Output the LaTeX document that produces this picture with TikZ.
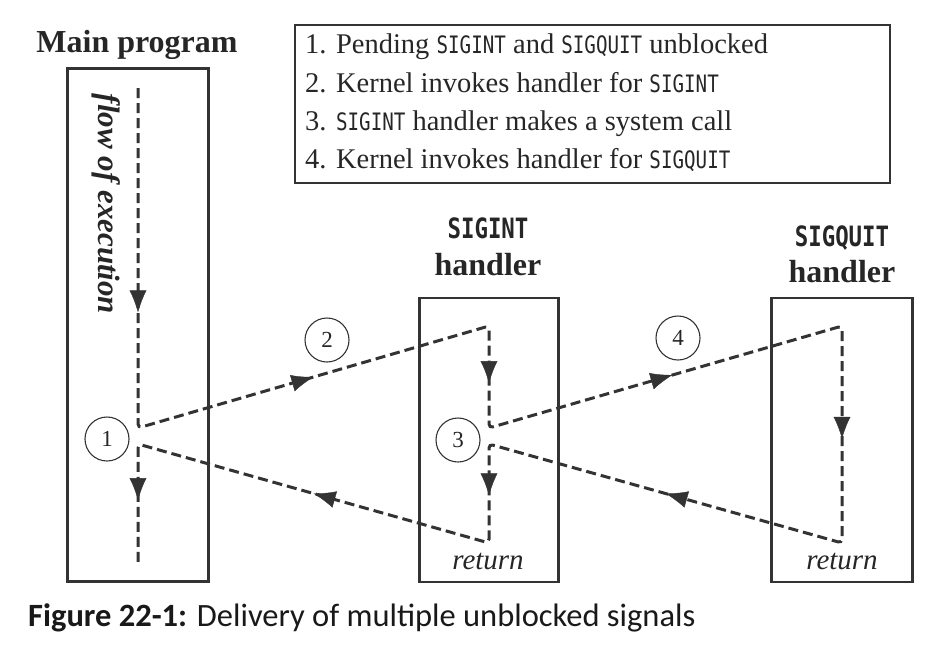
\documentclass[tikz,border=0pt]{standalone}
\usepackage{fontspec}
\setmainfont{Liberation Serif}
\setmonofont[FakeStretch=0.8]{DejaVu Sans Mono}
\newfontfamily\capfont{Carlito}
\usepackage{tikz}
\usetikzlibrary{
  	positioning,
  	arrows.meta,
		decorations.markings
  }
\definecolor{ink}{HTML}{333333}
\definecolor{txt}{HTML}{262626}
\newcommand{\sigmono}[1]{{\fontsize{24}{24}\selectfont\ttfamily #1}}
\tikzstyle{box}=[draw=ink, line width=2.8pt, inner sep=0pt]
\tikzstyle{legbox}=[draw=ink, line width=1.3pt, inner sep=0pt, minimum width=595pt, minimum height=158pt]
\tikzstyle{num}=[circle, draw=ink, line width=1.1pt, minimum size=44pt, inner sep=0pt, text=txt, font=\fontsize{23}{23}\selectfont]
\tikzstyle{flow}=[draw=ink, line width=3pt, dash pattern=on 10pt off 5pt, rounded corners=4pt]
\tikzstyle{legline}=[anchor=base west, inner sep=0pt, text=txt, font=\fontsize{28.5}{28.5}\selectfont]
\tikzstyle{title}=[anchor=base, inner sep=0pt, text=txt, font=\fontsize{32}{32}\selectfont\bfseries]
\tikzstyle{sigtitle}=[anchor=base, inner sep=0pt, text=txt, font=\fontsize{28}{28}\selectfont\ttfamily\bfseries]
\tikzstyle{ret}=[anchor=base, inner sep=0pt, text=txt, font=\fontsize{29}{29}\selectfont\itshape]
\tikzset{midarrow/.style={ink, postaction={decorate}, decoration={markings, mark=at position #1 with {\arrow{Latex[length=22pt,width=17pt]}}}}}

\begin{document}
\begin{tikzpicture}[x=1pt, y=-1pt]
  	\useasboundingbox (0,0) rectangle (948,649);
	% boxes
	\node[box, minimum width=141pt, minimum height=513pt] (main) at (138,325) {};
	\node[box, minimum width=139pt, minimum height=284pt] (int) at (489,440) {};
	\node[box, minimum width=141pt, minimum height=284pt] (quit) at (842,440) {};
	\node[legbox] (leg) at (592.5,104) {};
	% titles
	\node[title] (maint) at (137,52) {Main program};
	\node[sigtitle] (intt) at (488,238) {SIGINT};
	\node[title] (inth) at (488,275) {handler};
	\node[sigtitle] (quitt) at (842,246) {SIGQUIT};
	\node[title] (quith) at (842,282) {handler};
	\node[ret] (intr) at (488,569) {return};
	\node[ret] (quitr) at (842,569) {return};
	\node[rotate=-90, inner sep=0pt, text=txt, font=\fontsize{31}{31}\selectfont\bfseries\itshape] (foe) at (106,204) {flow of execution};
	% legend
	\node[legline] (l1) at (305,53) {1. Pending \sigmono{SIGINT} and \sigmono{SIGQUIT} unblocked};
	\node[legline] (l2) at (305,92) {2. Kernel invokes handler for \sigmono{SIGINT}};
	\node[legline] (l3) at (305,130) {3. \sigmono{SIGINT} handler makes a system call};
	\node[legline] (l4) at (305,168) {4. Kernel invokes handler for \sigmono{SIGQUIT}};
	% step numbers
	\node[num] (n1) at (107,439) {1};
	\node[num] (n2) at (327,340) {2};
	\node[num] (n3) at (458,440) {3};
	\node[num] (n4) at (678,338) {4};
	% flow of control
	\coordinate (m0) at (138,88);
	\coordinate (m1) at (138,428);
	\coordinate (s0) at (489,326);
	\coordinate (s1) at (489,428);
	\coordinate (q0) at (842,326);
	\coordinate (q1) at (842,543);
	\coordinate (s2) at (489,444);
	\coordinate (s3) at (489,543);
	\coordinate (m2) at (138,444);
	\coordinate (m3) at (138,566);
	\draw[flow] (m0) -- (m1) -- (s0) -- (s1) -- (q0) -- (q1) -- (s2) -- (s3) -- (m2) -- (m3);
	\path[midarrow=0.66] (m0) -- (m1);
	\path[midarrow=0.5] (m1) -- (s0);
	\path[midarrow=0.56] (s0) -- (s1);
	\path[midarrow=0.52] (s1) -- (q0);
	\path[midarrow=0.52] (q0) -- (q1);
	\path[midarrow=0.5] (q1) -- (s2);
	\path[midarrow=0.52] (s2) -- (s3);
	\path[midarrow=0.5] (s3) -- (m2);
	\path[midarrow=0.46] (m2) -- (m3);
	% caption
	\node[anchor=base west, inner sep=0pt, text=black!90, font=\fontsize{32.5}{32.5}\selectfont\capfont] (cap) at (28,626) {\textbf{Figure 22-1:} Delivery of multiple unblocked signals};
\end{tikzpicture}
\end{document}
